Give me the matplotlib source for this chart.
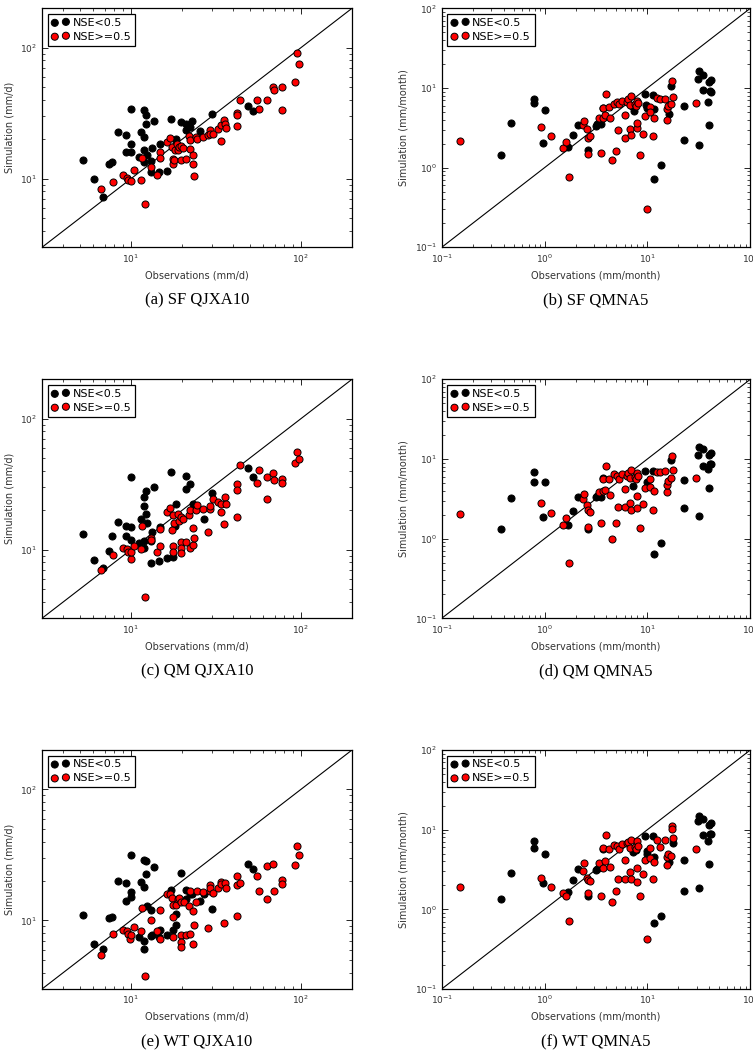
import matplotlib
matplotlib.use("Agg")
import matplotlib.pyplot as plt
import matplotlib.ticker as mticker

# --- QJXA10 panels (mm/d) ---
sf_qjxa_obs_low = [5.2, 6.1, 6.9, 7.4, 7.7, 8.4, 9.4, 9.3, 10, 10, 10, 11.2, 11.4, 11.9, 12.2, 12.2, 12.0, 12.0, 12.5, 12.0,
                   13.1, 13.3, 13.6, 13.1, 14.6, 14.8, 16.3, 17.3, 18.5, 19.8, 21.0, 21.2, 22.3, 23.0, 25.6, 30.1, 49.0, 52.5, 18.5]
sf_qjxa_sim_low = [13.8, 9.9, 7.3, 12.9, 13.4, 22.7, 21.6, 15.9, 18.4, 34.1, 16.1, 14.6, 22.7, 33.5, 30.5, 26.1, 20.9, 16.7, 15.2, 13.4,
                   13.6, 17.3, 27.7, 11.3, 11.2, 18.5, 11.4, 28.8, 20.0, 27.3, 23.5, 26.2, 25.0, 27.8, 23.2, 31.4, 35.9, 32.7, 18.9]
sf_qjxa_obs_high = [6.7, 7.8, 9.0, 9.5, 9.6, 10.0, 10.5, 11.4, 11.7, 12.1, 13.1, 14.2, 14.8, 14.9, 16.3, 17.1, 17.5, 17.6, 17.8, 17.9,
                    18.1, 18.8, 18.9, 19.1, 19.6, 19.7, 20.4, 21.0, 21.9, 22.2, 22.3, 23.1, 23.3, 23.6, 24.1, 24.6, 26.7, 28.4, 29.2, 29.3,
                    30.6, 32.7, 33.8, 33.9, 35.2, 36.0, 36.1, 42.0, 42.1, 42.0, 44.0, 55.0, 56.6, 63.0, 68.6, 69.8, 77.2, 77.2, 93.0, 94.7, 98.2]
sf_qjxa_sim_high = [8.3, 9.4, 10.7, 10.2, 9.8, 9.7, 11.6, 9.8, 14.4, 6.4, 12.3, 10.7, 16.1, 14.3, 19.2, 20.3, 17.5, 14.1, 13.0, 13.8,
                    16.5, 18.3, 16.6, 17.6, 13.9, 17.9, 17.1, 14.1, 21.3, 19.6, 16.9, 15.2, 12.9, 10.5, 21.0, 20.0, 20.8, 21.6, 23.5, 21.9,
                    22.0, 23.8, 25.6, 19.4, 28.1, 26.2, 24.3, 32.0, 30.7, 25.3, 40.2, 40.0, 34.1, 40.0, 49.9, 47.3, 50.2, 33.3, 54.5, 91.0, 75.1]

qm_qjxa_obs_low = [5.2, 6.1, 6.9, 7.4, 7.7, 8.4, 9.4, 9.4, 10, 10, 10, 11.2, 11.4, 11.9, 12.2, 12.0, 12.2, 12.0, 12.0, 12.5,
                   13.1, 13.3, 13.6, 13.1, 14.6, 14.8, 16.3, 17.3, 18.5, 21.0, 21.2, 22.3, 23.2, 27.0, 30.1, 49.0, 52.5, 18.3, 17.6]
qm_qjxa_sim_low = [13.3, 8.3, 7.3, 9.8, 12.7, 16.2, 12.7, 15.3, 15.0, 35.9, 11.9, 11.3, 17.1, 25.5, 27.9, 21.5, 18.9, 10.3, 11.7, 16.1,
                   11.7, 13.7, 29.9, 7.9, 8.2, 15.0, 8.7, 38.9, 22.4, 29.0, 36.5, 31.5, 22.4, 17.3, 26.9, 41.8, 36.1, 15.3, 8.8]
qm_qjxa_obs_high = [6.7, 7.8, 9.0, 9.5, 9.6, 10.0, 10.0, 10.5, 11.4, 11.7, 12.1, 13.1, 13.1, 14.2, 14.8, 14.8, 16.3, 17.1, 17.5, 17.6,
                    17.9, 17.8, 17.8, 18.9, 19.3, 19.6, 19.7, 19.7, 19.7, 20.4, 21.0, 21.9, 22.2, 22.3, 23.1, 23.3, 23.6, 24.1, 24.6, 26.7,
                    28.4, 29.2, 29.3, 30.6, 32.7, 33.8, 33.9, 35.2, 36.0, 36.1, 42.0, 42.1, 42.3, 44.0, 55.0, 56.6, 63.0, 63.0, 68.6, 69.8,
                    77.2, 77.2, 93.0, 94.7, 98.2]
qm_qjxa_sim_high = [7.0, 9.05, 10.3, 10.1, 9.6, 8.5, 9.65, 10.6, 10.2, 15.1, 4.4, 12.2, 11.8, 9.6, 14.3, 10.6, 19.3, 20.8, 14.1, 18.5,
                    15.9, 10.7, 9.6, 18.6, 16.6, 11.4, 17.9, 10.3, 9.5, 17.1, 11.5, 18.3, 20.2, 10.3, 14.6, 10.8, 12.3, 20.2, 21.9, 20.6,
                    13.7, 20.6, 21.4, 24.4, 23.0, 22.2, 19.5, 15.8, 25.5, 22.3, 31.9, 28.4, 17.9, 44.6, 32.3, 40.3, 24.2, 36.0, 38.3, 34.2,
                    34.6, 32.1, 45.9, 55.7, 49.2]

wt_qjxa_obs_low = [5.2, 6.1, 6.9, 7.4, 7.7, 8.4, 9.4, 9.4, 10, 10, 10, 11.2, 11.4, 11.9, 12.2, 12.2, 12.0, 12.0, 12.0, 12.5,
                   13.1, 13.3, 13.6, 13.1, 14.6, 14.8, 16.3, 17.3, 17.6, 18.5, 18.4, 19.8, 21.0, 21.2, 22.3, 23.0, 25.6, 27.0, 30.1, 49.0, 52.5]
wt_qjxa_sim_low = [11.0, 6.6, 6.1, 10.4, 10.7, 20.0, 19.2, 14.1, 16.4, 31.4, 15.0, 7.5, 19.8, 29.0, 28.6, 22.5, 18.0, 7.0, 6.1, 13.0,
                   12.0, 7.8, 25.6, 7.6, 7.5, 8.4, 7.7, 17.0, 8.5, 11.3, 9.2, 22.9, 14.7, 17.2, 15.9, 16.0, 14.1, 16.0, 12.3, 26.9, 24.9]
wt_qjxa_obs_high = [6.7, 7.8, 9.0, 9.5, 9.6, 9.9, 10.0, 10.5, 11.4, 11.7, 12.1, 13.1, 14.2, 14.8, 14.8, 16.3, 17.1, 17.5, 17.6, 17.8,
                    17.8, 18.4, 18.9, 19.2, 19.6, 19.7, 19.7, 19.7, 20.5, 21.2, 21.9, 22.3, 22.3, 23.1, 23.3, 23.6, 24.1, 24.6, 26.7, 28.4,
                    29.2, 29.3, 29.3, 30.6, 32.7, 33.8, 33.9, 35.2, 36.0, 36.1, 42.0, 42.0, 42.3, 44.0, 55.0, 56.6, 63.0, 63.0, 68.6, 69.8,
                    77.2, 77.2, 93.0, 94.7, 98.2]
wt_qjxa_sim_high = [5.5, 7.9, 8.5, 8.3, 7.9, 7.2, 7.8, 8.9, 8.3, 12.5, 3.8, 10.0, 8.3, 12.0, 7.25, 16.0, 16.0, 14.9, 13.2, 10.7,
                    7.5, 13.2, 14.5, 14.9, 13.9, 7.8, 6.8, 6.3, 13.8, 7.7, 13.0, 16.9, 7.9, 11.9, 6.6, 9.3, 13.9, 16.7, 16.5, 8.8,
                    18.6, 16.7, 17.7, 16.2, 17.7, 19.6, 19.1, 9.6, 19.4, 17.8, 21.9, 18.6, 10.8, 19.4, 21.9, 16.7, 26.2, 14.6, 26.9, 16.8,
                    20.4, 19.1, 26.7, 37.0, 31.4]

# --- QMNA5 panels (mm/month) ---
sf_qmna_obs_low = [0.377, 0.472, 0.783, 0.783, 0.96, 1.02, 1.68, 1.89, 2.10, 2.64, 3.16, 3.23, 3.54, 3.70, 7.08, 7.35, 9.53, 9.6, 9.8,
                   11.3, 11.6, 11.6, 13.7, 16.3, 16.9, 22.6, 22.6, 30.8, 31.9, 31.9, 34.4, 34.4, 38.5, 39.6, 39.6, 40.8, 41.4, 41.6]
sf_qmna_sim_low = [1.46, 3.64, 7.35, 6.55, 2.06, 5.3, 1.84, 2.55, 3.40, 1.65, 3.33, 3.50, 3.50, 5.66, 5.94, 5.1, 8.33, 6.05, 5.6,
                   8.17, 5.45, 0.71, 1.09, 4.72, 10.7, 5.94, 2.24, 13.0, 16.3, 1.91, 14.4, 9.35, 6.67, 12.0, 3.40, 9.16, 12.6, 8.8]
sf_qmna_obs_high = [0.149, 0.92, 1.16, 1.52, 1.63, 1.73, 2.38, 2.43, 2.56, 2.64, 2.64, 2.77, 3.36, 3.54, 3.67, 3.70, 3.87, 3.95, 4.23, 4.33,
                    4.56, 4.77, 4.95, 5.02, 5.21, 5.33, 5.66, 6.1, 6.1, 6.28, 6.52, 6.76, 6.82, 6.87, 6.87, 7.52, 7.68, 7.85, 7.85, 7.9,
                    8.04, 8.53, 9.06, 9.4, 9.8, 10.6, 10.7, 11.3, 11.6, 12.4, 13.2, 14.8, 15.4, 15.6, 16.0, 17.1, 17.3, 17.6, 29.6]
sf_qmna_sim_high = [2.14, 3.24, 2.52, 1.78, 2.12, 0.76, 3.43, 3.82, 3.09, 2.33, 1.47, 2.47, 4.24, 1.53, 5.66, 4.2, 4.62, 8.49, 5.78, 4.2,
                    1.24, 6.36, 1.62, 6.6, 2.97, 6.24, 6.8, 2.38, 4.54, 6.67, 7.21, 3.03, 6.05, 7.86, 2.55, 6.36, 5.86, 3.15, 3.60, 6.93,
                    6.41, 1.43, 2.65, 4.41, 0.30, 5.72, 5.05, 2.5, 4.16, 7.41, 7.21, 7.34, 3.93, 5.4, 5.94, 6.3, 12.1, 7.64, 6.55]

qm_qmna_obs_low = [0.377, 0.472, 0.783, 0.783, 0.96, 1.02, 1.68, 1.89, 2.10, 2.64, 3.16, 3.27, 3.54, 3.70, 7.2, 7.68, 9.53, 9.8,
                   11.3, 11.6, 13.7, 16.9, 22.6, 22.6, 30.8, 31.9, 31.9, 34.4, 34.4, 38.5, 39.6, 39.6, 40.8, 41.4, 41.6]
qm_qmna_sim_low = [1.31, 3.2, 6.93, 5.19, 1.89, 5.19, 1.47, 2.2, 3.37, 1.31, 3.3, 3.4, 3.37, 5.7, 4.58, 5.7, 7.07, 5.14,
                   7.0, 0.65, 0.89, 9.7, 2.43, 5.45, 11.3, 14.1, 1.94, 13.2, 8.25, 7.41, 11.1, 4.32, 8.57, 11.8, 8.6]
qm_qmna_obs_high = [0.149, 0.92, 1.16, 1.52, 1.63, 1.73, 2.38, 2.43, 2.56, 2.64, 2.64, 2.77, 3.36, 3.54, 3.67, 3.70, 3.87, 3.95, 4.23, 4.33,
                    4.56, 4.77, 4.95, 5.02, 5.21, 5.33, 5.66, 6.1, 6.1, 6.28, 6.52, 6.76, 6.82, 6.87, 6.87, 7.52, 7.68, 7.85, 7.85, 7.9,
                    8.04, 8.53, 9.06, 9.4, 10.6, 10.7, 11.3, 11.6, 12.4, 13.2, 14.8, 15.4, 15.6, 16.0, 17.1, 17.3, 17.6, 29.6]
qm_qmna_sim_high = [2.04, 2.83, 2.08, 1.5, 1.8, 0.50, 3.12, 3.6, 2.65, 2.31, 1.42, 2.18, 3.82, 1.57, 5.66, 3.96, 4.1, 8.17, 5.6, 3.57,
                    1.0, 6.48, 1.56, 6.12, 2.52, 5.6, 6.5, 2.47, 4.2, 6.12, 6.73, 2.83, 5.7, 7.2, 2.31, 6.0, 5.6, 2.4, 3.4, 6.73,
                    6.12, 1.36, 2.75, 4.32, 5.6, 4.45, 2.31, 4.0, 6.87, 6.8, 7.0, 3.82, 4.72, 5.3, 5.84, 10.9, 7.27, 5.84]

wt_qmna_obs_low = [0.377, 0.472, 0.783, 0.783, 0.96, 1.02, 1.68, 1.89, 2.10, 2.64, 3.16, 3.27, 3.54, 3.70, 7.2, 7.68, 9.53, 9.8, 9.8,
                   11.3, 11.6, 11.6, 13.7, 17.6, 16.3, 22.6, 22.6, 30.8, 31.9, 31.9, 34.4, 34.4, 38.5, 39.6, 39.6, 40.8, 41.4, 41.6]
wt_qmna_sim_low = [1.36, 2.88, 7.31, 5.81, 2.12, 5.02, 1.63, 2.31, 3.2, 1.45, 3.13, 3.2, 3.42, 5.78, 5.22, 5.5, 8.3, 5.43, 5.0,
                   8.3, 4.57, 0.67, 0.83, 6.78, 3.92, 4.19, 1.71, 13.0, 14.8, 1.85, 13.8, 8.53, 7.31, 11.6, 3.73, 8.8, 12.3, 8.8]
wt_qmna_obs_high = [0.149, 0.92, 1.16, 1.52, 1.63, 1.73, 2.38, 2.43, 2.56, 2.64, 2.64, 2.77, 3.36, 3.54, 3.67, 3.70, 3.87, 3.95, 4.23, 4.33,
                    4.56, 4.77, 4.95, 5.02, 5.21, 5.33, 5.66, 6.1, 6.1, 6.28, 6.52, 6.76, 6.82, 6.87, 6.87, 7.52, 7.68, 7.85, 7.85, 7.9,
                    8.04, 8.53, 9.06, 9.4, 9.8, 10.6, 10.7, 11.3, 11.6, 12.4, 13.2, 14.8, 15.4, 15.6, 16.0, 17.1, 17.3, 17.6, 29.6, 17.3]
wt_qmna_sim_high = [1.89, 2.49, 1.92, 1.6, 1.48, 0.71, 3.02, 3.85, 2.49, 1.6, 2.33, 2.25, 3.85, 1.48, 5.85, 3.3, 3.99, 8.45, 5.75, 3.42,
                    1.24, 6.33, 1.7, 6.2, 2.38, 5.8, 6.52, 2.43, 4.19, 6.9, 7.0, 2.96, 5.81, 7.46, 2.43, 5.99, 5.75, 2.22, 3.35, 7.31,
                    6.2, 1.45, 2.74, 4.19, 0.43, 5.9, 4.4, 2.43, 3.9, 7.37, 5.99, 7.46, 3.56, 4.48, 5.0, 4.66, 11.2, 7.9, 5.75, 10.3]

captions = ["(a) SF QJXA10", "(b) SF QMNA5", "(c) QM QJXA10", "(d) QM QMNA5", "(e) WT QJXA10", "(f) WT QMNA5"]
legend_labels = ["NSE<0.5", "NSE>=0.5"]
qjxa_lim = (3, 200)
qmna_lim = (0.1, 100)

panels = [
    (sf_qjxa_obs_low, sf_qjxa_sim_low, sf_qjxa_obs_high, sf_qjxa_sim_high, "mm/d"),
    (sf_qmna_obs_low, sf_qmna_sim_low, sf_qmna_obs_high, sf_qmna_sim_high, "mm/month"),
    (qm_qjxa_obs_low, qm_qjxa_sim_low, qm_qjxa_obs_high, qm_qjxa_sim_high, "mm/d"),
    (qm_qmna_obs_low, qm_qmna_sim_low, qm_qmna_obs_high, qm_qmna_sim_high, "mm/month"),
    (wt_qjxa_obs_low, wt_qjxa_sim_low, wt_qjxa_obs_high, wt_qjxa_sim_high, "mm/d"),
    (wt_qmna_obs_low, wt_qmna_sim_low, wt_qmna_obs_high, wt_qmna_sim_high, "mm/month"),
]

W, H = 753, 1060
fig = plt.figure(figsize=(W / 100, H / 100), dpi=100)

lefts = [42, 441.7]
widths = [310, 308.6]
tops = [8.3, 379.3, 750]
ax_h = 239
cap_y = [300, 671, 1042]

for i, (xl, yl, xh, yh, unit) in enumerate(panels):
    row, col = i // 2, i % 2
    ax = fig.add_axes([lefts[col] / W, 1 - (tops[row] + ax_h) / H, widths[col] / W, ax_h / H])
    lim = qjxa_lim if unit == "mm/d" else qmna_lim
    ax.plot(lim, lim, color="black", lw=0.8, zorder=1)
    ax.scatter(xl, yl, s=26, c="black", edgecolors="black", linewidths=0.7, label=legend_labels[0], zorder=2)
    ax.scatter(xh, yh, s=26, c="red", edgecolors="black", linewidths=0.7, label=legend_labels[1], zorder=3)
    ax.set_xscale("log")
    ax.set_yscale("log")
    ax.set_xlim(lim)
    ax.set_ylim(lim)
    ax.set_xlabel("Observations (%s)" % unit, fontsize=7, color="#333333")
    ax.set_ylabel("Simulation (%s)" % unit, fontsize=7, color="#333333")
    ax.tick_params(which="both", direction="in", top=True, right=True, labelsize=6.5, labelcolor="#333333")
    ax.tick_params(which="major", length=4, width=0.6)
    ax.tick_params(which="minor", length=2, width=0.5)
    ax.xaxis.set_minor_locator(mticker.LogLocator(base=10, subs=range(2, 10)))
    ax.yaxis.set_minor_locator(mticker.LogLocator(base=10, subs=range(2, 10)))
    for sp in ax.spines.values():
        sp.set_linewidth(0.9)
    leg = ax.legend(loc="upper left", scatterpoints=2, fontsize=8, fancybox=False, framealpha=1,
                    edgecolor="black", borderaxespad=0.5, handletextpad=0.3, borderpad=0.35,
                    labelspacing=0.35, handlelength=1.6)
    leg.get_frame().set_linewidth(0.9)
    cx = (lefts[col] + widths[col] / 2) / W
    fig.text(cx, 1 - cap_y[row] / H, captions[i], ha="center", va="center", fontsize=12,
             family="Liberation Serif")

fig.savefig("out.png", dpi=100)
